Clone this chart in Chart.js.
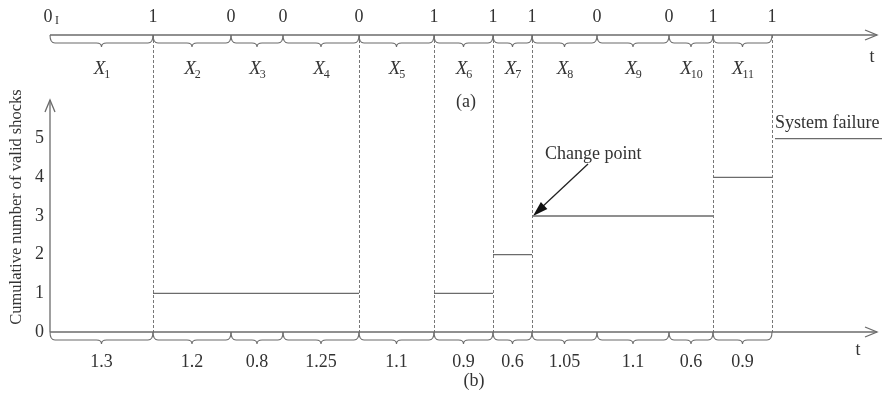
<!DOCTYPE html>
<html>
<head>
<meta charset="utf-8">
<script src="https://cdn.jsdelivr.net/npm/chart.js@4"></script>
<style>
  html, body { margin: 0; padding: 0; background: #fff; }
  #wrap { width: 884px; height: 396px; }
</style>
</head>
<body>
<div id="wrap"><canvas id="shockChart" width="884" height="396"></canvas></div>
<script>
// schematic time positions of the interval boundaries (not to scale)
var boundaries = [0, 10.3, 18.1, 23.3, 30.9, 38.4, 44.3, 48.2, 54.7, 61.9, 66.3, 72.2];
var shockMarks = ['0', '1', '0', '0', '0', '1', '1', '1', '0', '0', '1', '1'];
var intervalNames = ['1', '2', '3', '4', '5', '6', '7', '8', '9', '10', '11'];
var intervalLengths = ['1.3', '1.2', '0.8', '1.25', '1.1', '0.9', '0.6', '1.05', '1.1', '0.6', '0.9'];
var cumulativeShocks = [0, 1, 1, 1, 0, 1, 2, 3, 3, 3, 4];
var failureLevel = 5;
var failureSpan = [72.5, 83.2];
var yTicks = [0, 1, 2, 3, 4, 5];
var dashedAt = [1, 4, 5, 6, 7, 10, 11];
var changePointIndex = 8;

var INK = '#333';
var LINE = '#6b6b6b';
var FONT = '"Liberation Serif", "Times New Roman", serif';

// step segments (level 0 lies on the axis itself)
var stepData = [];
var i = 0;
while (i < cumulativeShocks.length) {
    var lvl = cumulativeShocks[i];
    var j = i;
    while (j + 1 < cumulativeShocks.length && cumulativeShocks[j + 1] === lvl) j++;
    if (lvl > 0) {
        stepData.push({ x: boundaries[i], y: lvl });
        stepData.push({ x: boundaries[j + 1], y: lvl });
        stepData.push({ x: boundaries[j + 1], y: null });
    }
    i = j + 1;
}
var failureData = [{ x: failureSpan[0], y: failureLevel }, { x: failureSpan[1], y: failureLevel }];

function brace(ctx, x1, x2, y) {
    var h = 8, tip = 12, r = 5, mid = (x1 + x2) / 2;
    ctx.beginPath();
    ctx.moveTo(x1, y);
    ctx.quadraticCurveTo(x1, y + h, x1 + r, y + h);
    ctx.lineTo(mid - r, y + h);
    ctx.quadraticCurveTo(mid, y + h, mid, y + tip);
    ctx.quadraticCurveTo(mid, y + h, mid + r, y + h);
    ctx.lineTo(x2 - r, y + h);
    ctx.quadraticCurveTo(x2, y + h, x2, y);
    ctx.stroke();
}

function openArrowH(ctx, x, y) {
    ctx.beginPath();
    ctx.moveTo(x - 12, y - 5);
    ctx.lineTo(x, y);
    ctx.lineTo(x - 12, y + 5);
    ctx.stroke();
}

var schematic = {
    id: 'schematic',
    beforeDatasetsDraw: function (chart) {
        var ctx = chart.ctx;
        var xs = chart.scales.x, ys = chart.scales.y;
        var area = chart.chartArea;
        var y0 = ys.getPixelForValue(0);
        var topY = 35;
        var x0 = xs.getPixelForValue(0);
        var xEnd = area.right;
        ctx.save();

        // dashed verticals
        ctx.strokeStyle = '#777';
        ctx.lineWidth = 1;
        ctx.setLineDash([3, 2]);
        dashedAt.forEach(function (k) {
            var px = Math.round(xs.getPixelForValue(boundaries[k])) + 0.5;
            ctx.beginPath();
            ctx.moveTo(px, topY);
            ctx.lineTo(px, y0);
            ctx.stroke();
        });
        ctx.setLineDash([]);

        // axes
        ctx.strokeStyle = LINE;
        ctx.lineWidth = 1.3;
        [topY, y0].forEach(function (yy) {
            ctx.beginPath();
            ctx.moveTo(x0, yy);
            ctx.lineTo(xEnd, yy);
            ctx.stroke();
            openArrowH(ctx, xEnd, yy);
        });
        ctx.beginPath();
        ctx.moveTo(x0, y0);
        ctx.lineTo(x0, area.top);
        ctx.stroke();
        ctx.beginPath();
        ctx.moveTo(x0 - 5, area.top + 12);
        ctx.lineTo(x0, area.top);
        ctx.lineTo(x0 + 5, area.top + 12);
        ctx.stroke();

        // braces
        ctx.lineWidth = 1.1;
        for (var k = 0; k < boundaries.length - 1; k++) {
            var a = xs.getPixelForValue(boundaries[k]);
            var b = xs.getPixelForValue(boundaries[k + 1]);
            brace(ctx, a, b, topY);
            brace(ctx, a, b, y0);
        }

        // text
        ctx.fillStyle = INK;
        ctx.textBaseline = 'middle';
        ctx.textAlign = 'center';
        ctx.font = '18px ' + FONT;
        shockMarks.forEach(function (m, k) {
            var px = xs.getPixelForValue(boundaries[k]);
            if (k === 0) {
                ctx.fillText(m, px - 2, 17);
                ctx.font = '12px ' + FONT;
                ctx.fillText('I', px + 7, 21);
                ctx.font = '18px ' + FONT;
            } else {
                ctx.fillText(m, px, 17);
            }
        });
        for (var n = 0; n < intervalNames.length; n++) {
            var mid = (xs.getPixelForValue(boundaries[n]) + xs.getPixelForValue(boundaries[n + 1])) / 2;
            ctx.font = 'italic 19px ' + FONT;
            var wX = ctx.measureText('X').width;
            ctx.font = '12px ' + FONT;
            var wS = ctx.measureText(intervalNames[n]).width;
            var left = mid - (wX + wS) / 2 + 1;
            ctx.textAlign = 'left';
            ctx.font = 'italic 19px ' + FONT;
            ctx.fillText('X', left, 69);
            ctx.font = '12px ' + FONT;
            ctx.fillText(intervalNames[n], left + wX - 1, 75);
            ctx.textAlign = 'center';
            ctx.font = '18px ' + FONT;
            ctx.fillText(intervalLengths[n], mid, 362);
        }
        ctx.font = '18px ' + FONT;
        ctx.fillText('t', 872, 57);
        ctx.fillText('t', 858, 350);
        ctx.fillText('(a)', 466, 102);
        ctx.fillText('(b)', 474, 381);

        // y ticks
        ctx.textAlign = 'right';
        yTicks.forEach(function (v) {
            ctx.fillText(String(v), 44, ys.getPixelForValue(v));
        });

        // y title
        ctx.save();
        ctx.translate(17, 207);
        ctx.rotate(-Math.PI / 2);
        ctx.textAlign = 'center';
        ctx.font = '16.5px ' + FONT;
        ctx.fillText('Cumulative number of valid shocks', 0, 0);
        ctx.restore();

        // labels
        ctx.textAlign = 'left';
        ctx.font = '18px ' + FONT;
        ctx.fillText('System failure', 775, 123);
        ctx.fillText('Change point', 545, 154);

        // change point arrow
        var cx = xs.getPixelForValue(boundaries[changePointIndex - 1]) + 1;
        var cy = ys.getPixelForValue(cumulativeShocks[changePointIndex - 1]);
        var sx = 588, sy = 164;
        ctx.strokeStyle = '#222';
        ctx.lineWidth = 1.3;
        ctx.beginPath();
        ctx.moveTo(sx, sy);
        ctx.lineTo(cx + 8, cy - 8);
        ctx.stroke();
        var ang = Math.atan2(cy - sy, cx - sx);
        ctx.fillStyle = '#111';
        ctx.beginPath();
        ctx.moveTo(cx, cy);
        ctx.lineTo(cx - 16 * Math.cos(ang - 0.3), cy - 16 * Math.sin(ang - 0.3));
        ctx.lineTo(cx - 16 * Math.cos(ang + 0.3), cy - 16 * Math.sin(ang + 0.3));
        ctx.closePath();
        ctx.fill();

        ctx.restore();
    }
};

var ctx = document.getElementById('shockChart').getContext('2d');
var chart = new Chart(ctx, {
    type: 'line',
    data: {
        datasets: [{
            label: 'Cumulative shocks',
            data: stepData,
            borderColor: LINE,
            borderWidth: 1.3,
            pointRadius: 0,
            spanGaps: false,
            fill: false
        }, {
            label: 'System failure',
            data: failureData,
            borderColor: LINE,
            borderWidth: 1.3,
            pointRadius: 0,
            clip: false,
            fill: false
        }]
    },
    options: {
        responsive: false,
        animation: false,
        layout: { padding: { left: 50, right: 7, top: 100, bottom: 64 } },
        plugins: { legend: { display: false }, tooltip: { enabled: false } },
        scales: {
            x: { type: 'linear', min: 0, max: 82.7, display: false },
            y: { type: 'linear', min: 0, max: 6, display: false }
        }
    },
    plugins: [schematic]
});
</script>
</body>
</html>
